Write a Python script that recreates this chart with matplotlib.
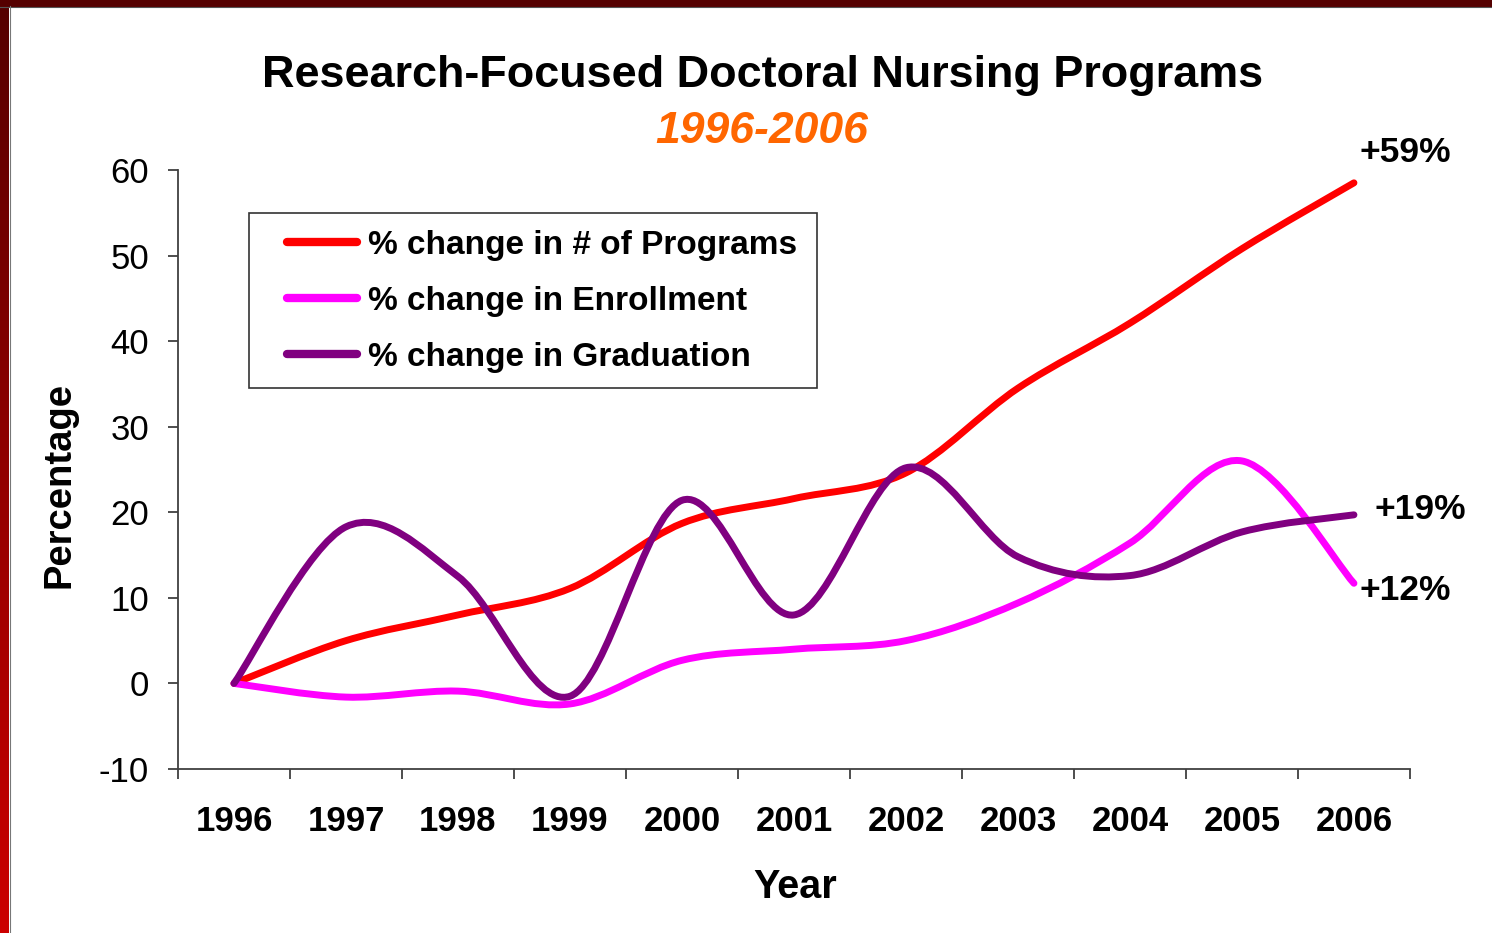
import numpy as np
import matplotlib
matplotlib.use("Agg")
import matplotlib.pyplot as plt
from matplotlib.path import Path
from matplotlib.patches import PathPatch, Rectangle
from matplotlib.lines import Line2D
from matplotlib.colors import LinearSegmentedColormap

# values (percent change since 1996)
years = ['1996', '1997', '1998', '1999', '2000', '2001',
         '2002', '2003', '2004', '2005', '2006']
programs = [0, 5.0, 8.0, 11.1, 18.7, 21.6, 24.6, 34.5, 42.1, 50.8, 58.5]
enrollment = [0, -1.6, -0.9, -2.4, 2.7, 4.0, 5.0, 9.4, 16.4, 26.0, 11.7]
graduation = [0, 18.3, 12.5, -1.5, 21.4, 8.0, 25.2, 14.8, 12.6, 17.7, 19.7]

series = [programs, enrollment, graduation]
names = ['% change in # of Programs',
         '% change in Enrollment',
         '% change in Graduation']
colors = ['#FF0000', '#FF00FF', '#800080']
end_labels = ['+59%', '+12%', '+19%']
# offsets (points) of the end labels from the last point
end_offsets = [(4.3, 14.9), (4.3, -12.0), (15.1, -2.9)]

plt.rcParams['font.family'] = ['Liberation Sans', 'DejaVu Sans']
plt.rcParams['axes.unicode_minus'] = False


def smooth_path(xs, ys):
    # excel style "smoothed line": one cubic bezier per segment
    pts = np.column_stack([xs, ys]).astype(float)
    n = len(pts)
    verts = [pts[0]]
    codes = [Path.MOVETO]
    for i in range(n - 1):
        p0 = pts[i - 1] if i > 0 else pts[i]
        p1 = pts[i]
        p2 = pts[i + 1]
        p3 = pts[i + 2] if i + 2 < n else pts[i + 1]
        verts += [p1 + (p2 - p0) / 6, p2 - (p3 - p1) / 6, p2]
        codes += [Path.CURVE4] * 3
    return Path(verts, codes)


fig = plt.figure(figsize=(14.92, 9.33), dpi=100)
ax = fig.add_axes([0.1193, 0.1758, 0.8257, 0.6420])

x = np.arange(len(years))
for vals, c in zip(series, colors):
    ax.add_patch(PathPatch(smooth_path(x, vals), facecolor='none',
                           edgecolor=c, lw=5, capstyle='round',
                           joinstyle='round', zorder=3))

for vals, lab, off in zip(series, end_labels, end_offsets):
    ax.annotate(lab, xy=(x[-1], vals[-1]), xytext=off,
                textcoords='offset points', ha='left', va='baseline',
                fontsize=25.5, fontweight='bold', annotation_clip=False)

ax.set_xlim(-0.5, len(years) - 0.5)
ax.set_ylim(-10, 60)

# category axis: ticks between years, labels on the years
ax.set_xticks(np.arange(-0.5, len(years), 1))
ax.set_xticklabels([])
ax.set_xticks(x, minor=True)
ax.set_xticklabels(years, minor=True, fontsize=25, fontweight='bold')
ax.tick_params(axis='x', which='major', length=7.2, width=1.3,
               color='#404040')
ax.tick_params(axis='x', which='minor', length=0, pad=26.0)

ax.set_yticks(range(-10, 61, 10))
ax.tick_params(axis='y', length=7.2, width=1.3, color='#404040',
               pad=13.7, labelsize=25)

for s in ['top', 'right']:
    ax.spines[s].set_visible(False)
for s in ['left', 'bottom']:
    ax.spines[s].set_color('#404040')
    ax.spines[s].set_linewidth(1.3)

ax.set_ylabel('Percentage', fontsize=27.5, fontweight='bold', va='center')
ax.yaxis.set_label_coords(-0.0958, 0.474)
ax.set_xlabel('Year', fontsize=28.5, fontweight='bold', va='center')
ax.xaxis.set_label_coords(0.5008, -0.1965)

# legend with a hand placed frame
handles = [Line2D([], [], color=c, lw=6, solid_capstyle='round')
           for c in colors]
ax.legend(handles, names, loc='upper left', bbox_to_anchor=(0.0885, 0.8998),
          frameon=False, borderpad=0, borderaxespad=0, handlelength=2.1,
          handletextpad=0.33, labelspacing=0.75,
          prop={'weight': 'bold', 'size': 24})
ax.add_patch(Rectangle((0.0576, 0.636), 0.461, 0.292, transform=ax.transAxes,
                       fill=False, ec='#333333', lw=1.2, zorder=4))

fig.text(763 / 1492, 1 - 87 / 933, 'Research-Focused Doctoral Nursing Programs',
         ha='center', va='baseline', fontsize=32.4, fontweight='bold')
fig.text(762 / 1492, 1 - 142.7 / 933, '1996-2006', ha='center',
         va='baseline', fontsize=32, fontweight='bold', style='italic',
         color='#FF6600')

# slide border: dark red top bar and red gradient on the left
fig.add_artist(Rectangle((0, 1 - 6 / 933), 1, 6 / 933,
                         transform=fig.transFigure, color='#550000'))
fig.add_artist(Line2D([0, 1], [1 - 6.5 / 933] * 2, transform=fig.transFigure,
                      color='#555555', lw=0.8))
bax = fig.add_axes([0, 0, 9 / 1492, 1])
grad = np.linspace(0, 1, 256).reshape(-1, 1)
bax.imshow(grad, aspect='auto',
           cmap=LinearSegmentedColormap.from_list('edge', ['#550000', '#CC0000']))
bax.axis('off')
fig.add_artist(Line2D([9.5 / 1492] * 2, [0, 1 - 6 / 933],
                      transform=fig.transFigure, color='#777777', lw=0.8))

fig.savefig('out.png', dpi=100)
